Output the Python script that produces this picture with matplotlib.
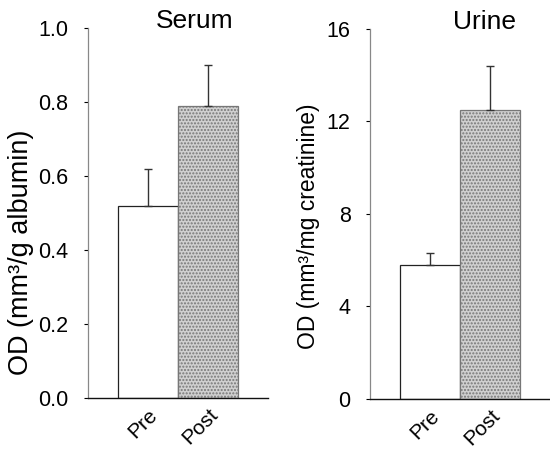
import numpy as np
import matplotlib.pyplot as plt
plt.rcParams.update({'font.size': 13, 'font.family': 'Liberation Sans'})

groups = ['Pre', 'Post']
serum_mean = [0.52, 0.79]
serum_err = [0.10, 0.11]
urine_mean = [5.8, 12.5]
urine_err = [0.5, 1.9]

serum_ticks = [0.0, 0.2, 0.4, 0.6, 0.8, 1.0]
urine_ticks = [0, 4, 8, 12, 16]

fig = plt.figure(figsize=(5.5, 4.51), dpi=100)
ax1 = fig.add_axes([0.16, 0.1175, 0.327, 0.8205])
ax2 = fig.add_axes([0.673, 0.1153, 0.327, 0.8204])

def panel(ax, mean, err, ticks, fmt, ylabel, ylab_size, ylab_xy, title, title_x):
    x = np.arange(1, len(groups) + 1)
    ax.bar(x[0], mean[0], width=1.0, color='white', edgecolor='#222222', linewidth=0.9, zorder=2)
    ax.bar(x[1], mean[1], width=1.0, color='#d0d0d0', edgecolor='#777777', hatch='.....',
           linewidth=0.9, zorder=2)
    for xi, m, e in zip(x, mean, err):
        ax.errorbar(xi, m, yerr=[[0], [e]], fmt='none', ecolor='#333333', elinewidth=1.0,
                    capsize=3, capthick=1.0, zorder=3)
    ax.set_xlim(0, 3)
    ax.set_ylim(ticks[0], ticks[-1])
    ax.set_yticks(ticks)
    ax.set_yticklabels([fmt.format(t) for t in ticks])
    ax.set_xticks(x)
    ax.set_xticklabels(groups, rotation=45, ha='right', rotation_mode='anchor')
    ax.tick_params(axis='x', length=0, pad=5, labelsize=15)
    ax.tick_params(axis='y', length=3, width=0.8, pad=11, labelsize=15.5)
    ax.spines['top'].set_visible(False)
    ax.spines['right'].set_visible(False)
    ax.spines['left'].set_color('#888888')
    ax.spines['left'].set_linewidth(0.9)
    ax.spines['bottom'].set_color('#111111')
    ax.spines['bottom'].set_linewidth(1.0)
    ax.text(ylab_xy[0], ylab_xy[1], ylabel, fontsize=ylab_size, rotation=90,
            ha='center', va='center', transform=ax.transAxes)
    ax.text(title_x, ticks[-1], title, fontsize=19, ha='center', va='baseline', clip_on=False)

panel(ax1, serum_mean, serum_err, serum_ticks, '{:.1f}', 'OD (mm³/g albumin)', 19.5,
      (-0.37, 0.395), 'Serum', 1.78)
panel(ax2, urine_mean, urine_err, urine_ticks, '{:d}', 'OD (mm³/mg creatinine)', 16.5,
      (-0.345, 0.468), 'Urine', 1.9)

fig.savefig('out.png', dpi=100)
